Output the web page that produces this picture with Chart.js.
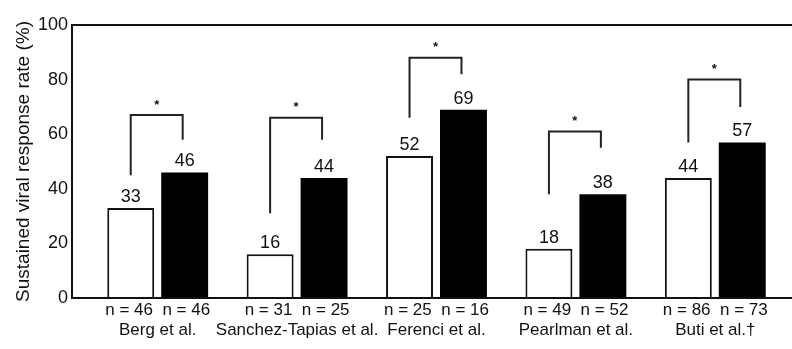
<!DOCTYPE html>
<html>
<head>
<meta charset="utf-8">
<script src="https://cdn.jsdelivr.net/npm/chart.js@4"></script>
<style>
  html, body { margin: 0; padding: 0; background: #fff; }
  canvas { display: block; }
</style>
</head>
<body>
<canvas id="svr-chart" width="792" height="349"></canvas>
<script>
const studies = ["Berg et al.", "Sanchez-Tapias et al.", "Ferenci et al.", "Pearlman et al.", "Buti et al.\u2020"];
const nShort = [46, 31, 25, 49, 86];
const nLong = [46, 25, 16, 52, 73];
const svrShort = [33, 16, 52, 18, 44];
const svrLong = [46, 44, 69, 38, 57];
// significance brackets, in y values: top line, left leg end, right leg end
const bracketTop = [67, 66, 88, 61, 80];
const bracketLeftEnd = [45, 31, 66, 38, 57];
const bracketRightEnd = [58, 58, 82, 55, 70];
const yTicks = [0, 20, 40, 60, 80, 100];

const FONT = "'Liberation Sans', Arial, Helvetica, sans-serif";
const INK = "#111";

const labels = studies.map((s, i) => [`n = ${nShort[i]}  n = ${nLong[i]}`, s]);

const framePlugin = {
    id: "frame",
    afterDraw(chart) {
        const ctx = chart.ctx;
        const area = chart.chartArea;
        const x0 = 72;
        ctx.save();
        ctx.strokeStyle = INK;
        ctx.lineWidth = 2;
        ctx.beginPath();
        ctx.moveTo(chart.width, area.top);
        ctx.lineTo(x0, area.top);
        ctx.lineTo(x0, area.bottom);
        ctx.lineTo(chart.width, area.bottom);
        ctx.stroke();
        ctx.restore();
    }
};

const annotatePlugin = {
    id: "annotate",
    afterDatasetsDraw(chart) {
        const ctx = chart.ctx;
        const y = chart.scales.y;
        const white = chart.getDatasetMeta(0).data;
        const black = chart.getDatasetMeta(1).data;
        ctx.save();
        ctx.fillStyle = INK;
        ctx.font = `18px ${FONT}`;
        ctx.textAlign = "center";
        ctx.textBaseline = "alphabetic";
        white.forEach((bar, i) => ctx.fillText(String(svrShort[i]), bar.x, bar.y - 6));
        black.forEach((bar, i) => ctx.fillText(String(svrLong[i]), bar.x, bar.y - 6));

        ctx.strokeStyle = "#222";
        ctx.lineWidth = 2;
        studies.forEach((_, i) => {
            const xl = white[i].x;
            const xr = black[i].x - 2;
            const top = y.getPixelForValue(bracketTop[i]);
            ctx.beginPath();
            ctx.moveTo(xl, y.getPixelForValue(bracketLeftEnd[i]));
            ctx.lineTo(xl, top);
            ctx.lineTo(xr, top);
            ctx.lineTo(xr, y.getPixelForValue(bracketRightEnd[i]));
            ctx.stroke();
            ctx.font = `bold 13px ${FONT}`;
            ctx.textBaseline = "middle";
            ctx.fillText("*", (xl + xr) / 2, top - 10);
        });
        ctx.restore();
    }
};

new Chart(document.getElementById("svr-chart"), {
    type: "bar",
    data: {
        labels: labels,
        datasets: [
            {
                label: "short",
                data: svrShort,
                backgroundColor: "#fff",
                borderColor: INK,
                borderWidth: 2
            },
            {
                label: "long",
                data: svrLong,
                backgroundColor: "#000",
                borderColor: "#000",
                borderWidth: 0
            }
        ]
    },
    options: {
        responsive: false,
        animation: false,
        devicePixelRatio: 1,
        layout: { padding: { top: 25, right: 7, left: 0, bottom: 0 } },
        datasets: {
            bar: { categoryPercentage: 0.774, barPercentage: 0.87 }
        },
        plugins: {
            legend: { display: false },
            tooltip: { enabled: false }
        },
        scales: {
            x: {
                grid: { display: false, drawTicks: false },
                border: { display: false },
                ticks: {
                    color: INK,
                    padding: 3,
                    maxRotation: 0,
                    autoSkip: false,
                    font: { family: FONT, size: 17, lineHeight: 1.15 }
                },
                afterFit(scale) { scale.height = 51; }
            },
            y: {
                min: 0,
                max: 100,
                grid: { display: false, drawTicks: false },
                border: { display: false },
                afterBuildTicks(scale) { scale.ticks = yTicks.map(v => ({ value: v })); },
                ticks: {
                    color: INK,
                    padding: 20,
                    font: { family: FONT, size: 18 }
                },
                title: {
                    display: true,
                    text: "Sustained viral response rate (%)",
                    color: INK,
                    padding: { top: 12, bottom: 0 },
                    font: { family: FONT, size: 19 }
                },
                afterFit(scale) {
                    scale.width = 88;
                    // keep the tick padding from pushing the plot area down
                    scale.paddingTop = 0;
                    scale.paddingBottom = 0;
                }
            }
        }
    },
    plugins: [framePlugin, annotatePlugin]
});
</script>
</body>
</html>
